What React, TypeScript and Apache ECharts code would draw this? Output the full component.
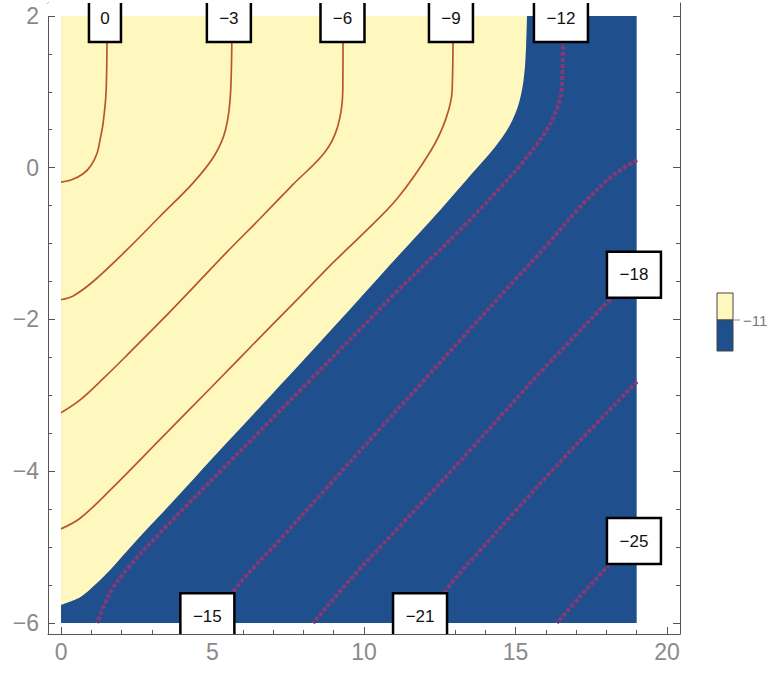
import React, { useEffect, useRef } from "react";
import * as echarts from "echarts";

// ---- axes / ticks ----
const xTickValues = [0, 5, 10, 15, 20];
const xMinorTicks = [1, 2, 3, 4, 6, 7, 8, 9, 11, 12, 13, 14, 16, 17, 18, 19];
const yTickValues = [-6, -4, -2, 0, 2];
const yMinorTicks = [-5.5, -5, -4.5, -3.5, -3, -2.5, -1.5, -1, -0.5, 0.5, 1, 1.5];

// ---- data domain ----
const domainX = [0, 19];
const domainY = [-6, 2];

// ---- filled region boundary (level -11): yellow above/left, blue below/right ----
const boundaryLevel = -11;
const boundaryPoints: number[][] = [
  [0, -5.76], [0.63, -5.66], [1.06, -5.52], [1.62, -5.3], [2.18, -5.05], [2.94, -4.72],
  [3.76, -4.37], [5.25, -3.72], [7.0, -2.97], [8.98, -2.11], [11.09, -1.18],
  [12.51, -0.56], [13.6, -0.06], [14.3, 0.26], [14.8, 0.55], [15.12, 0.86], [15.28, 1.2],
  [15.35, 1.6], [15.38, 2.0],
];

// ---- contour lines ----
const contour0 = [[1.52, 2.0], [1.49, 1.02], [1.39, 0.59], [1.29, 0.37], [1.19, 0.19], [0.99, 0.03], [0.73, -0.08], [0.35, -0.16], [0, -0.19]];
const contourM3 = [[5.64, 2.0], [5.6, 1.02], [5.43, 0.5], [5.05, 0.15], [4.36, -0.2], [3.27, -0.64], [2.18, -1.08], [1.06, -1.5], [0.4, -1.69], [0, -1.74]];
const contourM6 = [[9.31, 2.0], [9.3, 1.02], [9.13, 0.54], [8.7, 0.2], [7.66, -0.22], [6.57, -0.67], [5.48, -1.11], [4.36, -1.58], [3.3, -2.02], [2.18, -2.47], [1.39, -2.78], [0.63, -3.06], [0, -3.23]];
const contourM9 = [[12.94, 2.0], [12.91, 1.02], [12.69, 0.63], [12.2, 0.22], [11.09, -0.41], [9.97, -0.87], [8.88, -1.29], [7.89, -1.7], [6.8, -2.14], [4.92, -2.91], [3.27, -3.58], [1.62, -4.25], [0.63, -4.62], [0, -4.76]];
const contourM12 = [[16.57, 2.0], [16.54, 1.12], [16.26, 0.67], [15.5, 0.2], [14.39, -0.31], [13.27, -0.78], [12.18, -1.21], [11.09, -1.63], [9.97, -2.09], [8.05, -2.87], [5.41, -3.94], [3.37, -4.77], [2.2, -5.28], [1.62, -5.6], [1.19, -6.0]];
const contourM15 = [[19.01, 0.1], [18.22, -0.1], [17.13, -0.52], [16.04, -1.02], [14.82, -1.55], [13.27, -2.23], [11.85, -2.86], [10.53, -3.44], [8.88, -4.17], [7.23, -4.9], [5.91, -5.47], [4.92, -6.0]];
const contourM18 = [[19.01, -1.41], [18.45, -1.62], [17.79, -1.87], [16.96, -2.22], [15.81, -2.7], [13.6, -3.68], [12.41, -4.2], [11.19, -4.72], [9.54, -5.43], [8.32, -6.0]];
const contourM21 = [[19.01, -2.82], [17.46, -3.46], [16.14, -4.02], [15.05, -4.5], [13.93, -5.0], [12.84, -5.5], [12.01, -6.0]];
const contourM25 = [[19.01, -4.8], [18.02, -5.26], [17.13, -5.65], [16.37, -6.0]];

const upperContours = [contour0, contourM3, contourM6, contourM9];
const lowerContours = [contourM12, contourM15, contourM18, contourM21, contourM25];

// ---- contour labels ----
const labelTexts = ["0", "−3", "−6", "−9", "−12", "−15", "−21", "−18", "−25"];
const labelX = [1.45, 5.54, 9.29, 12.87, 16.5, 4.83, 11.85, 18.91, 18.91];
const labelY = [1.96, 1.96, 1.96, 1.96, 1.96, -5.91, -5.91, -1.41, -4.92];

const YELLOW = "#FFF8BE";
const BLUE = "#1F4F8C";
const FRAME = "#555555";
const TICKLABEL = "#8a8a8a";
const FONT = "'Liberation Sans', Arial, sans-serif";

const fmt = (v: number) => (v < 0 ? "−" + Math.abs(v) : String(v));

export default function App() {
  const ref = useRef<HTMLDivElement>(null);
  useEffect(() => {
    if (!ref.current) return;
    const chart = echarts.init(ref.current, undefined, { renderer: "svg" });

    const baseX = { type: "value", min: -0.43, max: 20.43, splitLine: { show: false } };
    const baseY = { type: "value", min: -6.145, max: 2.17, splitLine: { show: false } };

    const mk = (base: any, position: string, major: boolean, values: number[], label: any) => ({
      ...base,
      position,
      axisLine: major ? { show: true, onZero: false, lineStyle: { color: FRAME, width: 1 } } : { show: false, onZero: false },
      axisTick: { show: true, inside: true, length: major ? 7 : 4, customValues: values, lineStyle: { color: FRAME } },
      axisLabel: label,
    });

    const xAxes = [
      mk(baseX, "bottom", true, xTickValues, { show: true, customValues: xTickValues, fontSize: 23, color: TICKLABEL, margin: 6, fontFamily: FONT, formatter: fmt }),
      mk(baseX, "bottom", false, xMinorTicks, { show: false }),
      mk(baseX, "top", true, xTickValues, { show: false }),
      mk(baseX, "top", false, xMinorTicks, { show: false }),
    ];
    const yAxes = [
      mk(baseY, "left", true, yTickValues, { show: true, customValues: yTickValues, fontSize: 23, color: TICKLABEL, margin: 9, fontFamily: FONT, formatter: fmt }),
      mk(baseY, "left", false, yMinorTicks, { show: false }),
      mk(baseY, "right", true, yTickValues, { show: false }),
      mk(baseY, "right", false, yMinorTicks, { show: false }),
    ];

    const series: any[] = [];

    // blue background of the data domain
    series.push({
      type: "custom",
      xAxisIndex: 0,
      yAxisIndex: 0,
      z: 1,
      silent: true,
      clip: true,
      data: [[domainX[0], domainY[0]]],
      renderItem: (_params: any, api: any) => {
        const p0 = api.coord([domainX[0], domainY[1]]);
        const p1 = api.coord([domainX[1], domainY[0]]);
        return { type: "rect", shape: { x: p0[0], y: p0[1], width: p1[0] - p0[0], height: p1[1] - p0[1] }, style: { fill: BLUE } };
      },
    });

    // yellow region (values above the -11 level)
    series.push({
      type: "line",
      xAxisIndex: 0,
      yAxisIndex: 0,
      z: 2,
      silent: true,
      data: boundaryPoints,
      showSymbol: false,
      smooth: 0.35,
      lineStyle: { width: 0, opacity: 0 },
      areaStyle: { color: YELLOW, opacity: 1, origin: "end" },
    });

    // white cover above the top of the data domain
    series.push({
      type: "custom",
      xAxisIndex: 0,
      yAxisIndex: 0,
      z: 3,
      silent: true,
      clip: true,
      data: [[domainX[0], domainY[1]]],
      renderItem: (params: any, api: any) => {
        const cs = params.coordSys;
        const p = api.coord([domainX[0], domainY[1]]);
        return { type: "rect", shape: { x: cs.x, y: cs.y, width: cs.width, height: p[1] - cs.y }, style: { fill: "#ffffff" } };
      },
    });

    upperContours.forEach((c) => {
      series.push({
        type: "line",
        xAxisIndex: 0,
        yAxisIndex: 0,
        z: 4,
        data: c,
        showSymbol: false,
        smooth: 0.35,
        silent: true,
        lineStyle: { color: "#b8562a", width: 1.7 },
      });
    });
    lowerContours.forEach((c) => {
      series.push({
        type: "line",
        xAxisIndex: 0,
        yAxisIndex: 0,
        z: 4,
        data: c,
        showSymbol: false,
        smooth: 0.35,
        silent: true,
        lineStyle: { color: "#843a76", width: 4, type: [4, 2] },
      });
    });

    series.push({
      type: "custom",
      xAxisIndex: 0,
      yAxisIndex: 0,
      z: 6,
      silent: true,
      clip: true,
      data: labelX.map((x, i) => [x, labelY[i], i]),
      renderItem: (params: any, api: any) => {
        const i = params.dataIndex;
        const c = api.coord([api.value(0), api.value(1)]);
        const t = labelTexts[i];
        const w = t.length === 1 ? 32 : t.length === 2 ? 44 : 54;
        const h = 46;
        return {
          type: "group",
          children: [
            { type: "rect", shape: { x: c[0] - w / 2, y: c[1] - h / 2, width: w, height: h }, style: { fill: "#ffffff", stroke: "#000000", lineWidth: 2.5 } },
            { type: "text", style: { x: c[0], y: c[1], text: t, align: "center", verticalAlign: "middle", fontSize: 17, fontFamily: FONT, fill: "#111111" } },
          ],
        };
      },
    });

    chart.setOption({
      animation: false,
      backgroundColor: "#ffffff",
      grid: { left: 48, top: 3, width: 632, height: 631, containLabel: false },
      xAxis: xAxes,
      yAxis: yAxes,
      series,
      graphic: [
        { type: "rect", shape: { x: 717, y: 293, width: 16, height: 27 }, style: { fill: YELLOW, stroke: "#444", lineWidth: 1 } },
        { type: "rect", shape: { x: 717, y: 320, width: 16, height: 31 }, style: { fill: BLUE, stroke: "#444", lineWidth: 1 } },
        { type: "line", shape: { x1: 734, y1: 320, x2: 740, y2: 320 }, style: { stroke: "#888", lineWidth: 1 } },
        { type: "text", style: { x: 743, y: 320, text: fmt(boundaryLevel), fontSize: 15, fontFamily: FONT, fill: "#777", verticalAlign: "middle" } },
      ],
    });
    return () => chart.dispose();
  }, []);
  return <div ref={ref} style={{ position: "fixed", left: 0, top: 0, width: 779, height: 673 }} />;
}
